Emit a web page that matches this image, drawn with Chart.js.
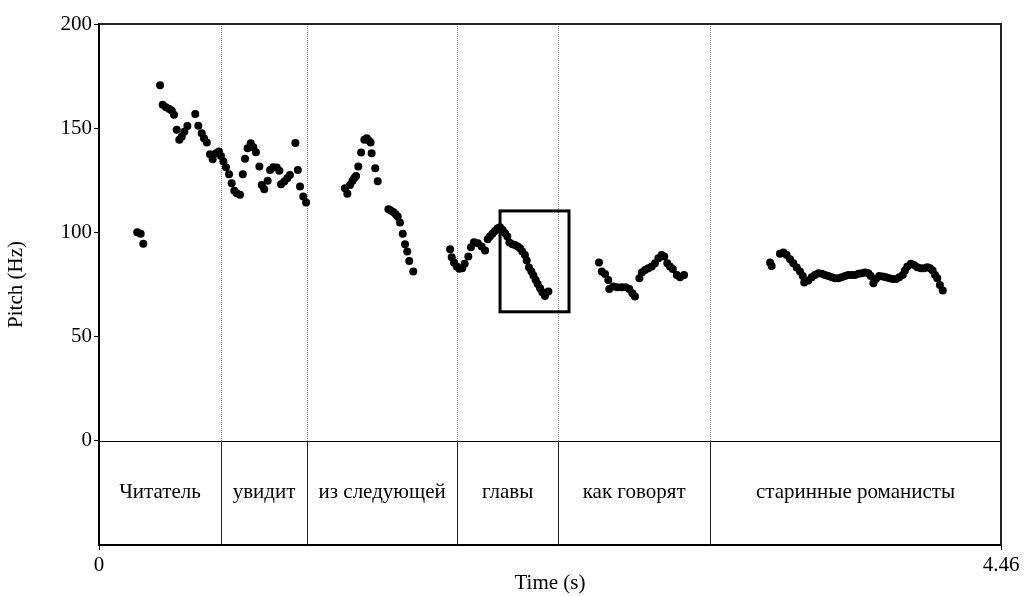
<!DOCTYPE html>
<html>
<head>
<meta charset="utf-8">
<script src="https://cdn.jsdelivr.net/npm/chart.js@4.4.1/dist/chart.umd.min.js"></script>
<style>
  html, body { margin: 0; padding: 0; background: #fff; }
  canvas { display: block; }
</style>
</head>
<body>
<canvas id="pitchChart" width="1025" height="596"></canvas>
<script>
// pitch track samples (time in s, pitch in Hz)
const times = [
  0.189, 0.206, 0.219, 0.302, 0.315, 0.331, 0.348, 0.360, 0.371, 0.384,
  0.397, 0.409, 0.422, 0.437, 0.476, 0.491, 0.508, 0.519, 0.533, 0.549,
  0.562, 0.579, 0.593, 0.603, 0.615, 0.628, 0.643, 0.656, 0.669, 0.681,
  0.697, 0.711, 0.722, 0.735, 0.750, 0.763, 0.776, 0.793, 0.805, 0.817,
  0.834, 0.846, 0.862, 0.879, 0.892, 0.900, 0.916, 0.931, 0.944, 0.971,
  0.983, 0.994, 1.010, 1.024,
  1.216, 1.228, 1.241, 1.253, 1.262, 1.271, 1.282, 1.296, 1.312, 1.324,
  1.335, 1.343, 1.348, 1.366, 1.378, 1.431, 1.442, 1.455, 1.467, 1.477,
  1.488, 1.502, 1.513, 1.524, 1.534, 1.554,
  1.736, 1.744, 1.755, 1.769, 1.782, 1.796, 1.808, 1.826, 1.839, 1.854,
  1.873, 1.892, 1.909, 1.922, 1.933, 1.945, 1.958, 1.971, 1.983, 1.996,
  2.008, 2.019, 2.029, 2.044, 2.057, 2.070, 2.082, 2.093, 2.106, 2.115,
  2.126, 2.138, 2.148, 2.159, 2.169, 2.181, 2.192, 2.205, 2.222,
  2.472, 2.486, 2.502, 2.518, 2.523, 2.543, 2.563, 2.585, 2.604, 2.622,
  2.637, 2.650, 2.672, 2.684, 2.700, 2.716, 2.733, 2.749, 2.766, 2.782,
  2.795, 2.810, 2.823, 2.837, 2.857, 2.873, 2.893,
  3.318, 3.326, 3.367, 3.384, 3.400, 3.417, 3.433, 3.450, 3.466, 3.480,
  3.487, 3.507, 3.524, 3.540, 3.557, 3.574, 3.590, 3.606, 3.623, 3.639,
  3.656, 3.672, 3.689, 3.705, 3.722, 3.738, 3.755, 3.771, 3.788, 3.804,
  3.816, 3.829, 3.842, 3.858, 3.875, 3.891, 3.908, 3.925, 3.941, 3.957,
  3.974, 3.985, 3.997, 4.014, 4.030, 4.046, 4.063, 4.079, 4.096, 4.109,
  4.122, 4.134, 4.145, 4.158, 4.172
];
const pitches = [
  100.1, 99.3, 94.6, 170.6, 161.3, 160.0, 159.2, 158.4, 156.4, 149.2,
  144.4, 145.9, 148.3, 151.1, 156.8, 151.2, 147.6, 145.2, 143.1, 137.5,
  135.1, 138.0, 138.8, 136.7, 134.0, 131.3, 127.9, 123.6, 120.0, 118.8,
  118.1, 127.9, 135.4, 140.4, 142.8, 140.9, 138.5, 131.6, 122.8, 120.7,
  124.8, 130.0, 131.3, 131.1, 129.6, 123.1, 124.4, 126.0, 127.6, 142.9,
  130.0, 122.0, 117.2, 114.3,
  121.2, 118.5, 122.8, 124.7, 126.0, 127.1, 131.6, 138.3, 144.4, 145.2,
  144.0, 143.1, 138.0, 130.8, 124.6, 111.1, 110.5, 109.8, 108.7, 107.6,
  104.7, 99.3, 94.3, 90.8, 86.3, 81.2,
  91.9, 88.1, 85.5, 83.6, 82.5, 82.8, 84.9, 88.4, 92.9, 95.3,
  94.8, 93.2, 91.3, 96.7, 98.0, 99.3, 100.7, 102.0, 102.5, 101.2,
  99.6, 98.0, 95.1, 94.3, 93.9, 93.2, 92.4, 90.8, 89.2, 86.5,
  83.1, 81.2, 79.3, 77.2, 75.2, 73.2, 71.3, 69.5, 71.6,
  85.5, 81.2, 80.0, 77.2, 72.8, 74.0, 73.7, 73.7, 73.7, 72.8,
  70.8, 69.2, 78.0, 80.7, 82.0, 82.8, 83.6, 85.2, 87.6, 89.2,
  88.4, 85.2, 83.6, 82.4, 79.6, 78.5, 79.6,
  85.5, 83.9, 89.7, 90.3, 89.2, 87.1, 85.2, 83.1, 81.2, 79.1,
  75.9, 76.9, 78.5, 79.6, 80.4, 80.1, 79.6, 79.1, 78.5, 78.0,
  78.0, 78.5, 79.1, 79.5, 79.5, 79.6, 80.1, 80.4, 80.7, 80.4,
  79.1, 75.6, 77.6, 79.1, 78.8, 78.5, 78.0, 77.6, 77.6, 78.5,
  79.6, 81.7, 83.6, 84.9, 84.4, 83.3, 82.8, 82.8, 83.3, 82.8,
  81.7, 79.6, 78.0, 74.8, 72.1
];

// word tier
const words = ["Читатель", "увидит", "из следующей", "главы", "как говорят", "старинные романисты"];
const wordBounds = [0, 0.603, 1.029, 1.771, 2.270, 3.022, 4.46];

// highlighted region
const boxTimes = [1.983, 2.324];
const boxPitches = [61.9, 110.3];

const xTicks = [0, 4.46];
const xTickLabels = ["0", "4.46"];
const yTicks = [0, 50, 100, 150, 200];
const yMin = -50;
const yMax = 200;

const serif = "'Liberation Serif', 'Times New Roman', serif";
const textFont = { family: serif, size: 21 };

const tierPlugin = {
  id: "tier",
  beforeDatasetsDraw(chart) {
    const { ctx, chartArea, scales } = chart;
    const x = scales.x;
    const y = scales.y;
    const y0 = y.getPixelForValue(0);
    const yTop = y.getPixelForValue(yMax);
    const yBot = y.getPixelForValue(yMin);
    ctx.save();

    // zero line separating pitch pane and word tier
    ctx.strokeStyle = "#000";
    ctx.lineWidth = 1;
    ctx.beginPath();
    ctx.moveTo(chartArea.left, Math.round(y0) + 0.5);
    ctx.lineTo(chartArea.right, Math.round(y0) + 0.5);
    ctx.stroke();

    // boundaries: dotted in pitch pane, solid in tier
    wordBounds.slice(1, -1).forEach((t) => {
      const px = Math.round(x.getPixelForValue(t)) + 0.5;
      ctx.strokeStyle = "#7a7a7a";
      ctx.setLineDash([1, 1]);
      ctx.beginPath();
      ctx.moveTo(px, yTop);
      ctx.lineTo(px, y0);
      ctx.stroke();
      ctx.setLineDash([]);
      ctx.strokeStyle = "#222";
      ctx.beginPath();
      ctx.moveTo(px, y0);
      ctx.lineTo(px, yBot);
      ctx.stroke();
    });

    // word labels
    ctx.fillStyle = "#000";
    ctx.font = `${textFont.size}px ${serif}`;
    ctx.textAlign = "center";
    ctx.textBaseline = "middle";
    const yMid = y.getPixelForValue(yMin / 2);
    words.forEach((w, i) => {
      const cx = (x.getPixelForValue(wordBounds[i]) + x.getPixelForValue(wordBounds[i + 1])) / 2;
      ctx.fillText(w, cx, yMid);
    });
    ctx.restore();
  },
  afterDatasetsDraw(chart) {
    const { ctx, chartArea, scales } = chart;
    const x = scales.x;
    const y = scales.y;
    ctx.save();

    // highlight box
    ctx.strokeStyle = "#000";
    ctx.lineWidth = 3;
    const bx0 = x.getPixelForValue(boxTimes[0]);
    const bx1 = x.getPixelForValue(boxTimes[1]);
    const by0 = y.getPixelForValue(boxPitches[1]);
    const by1 = y.getPixelForValue(boxPitches[0]);
    ctx.strokeRect(bx0, by0, bx1 - bx0, by1 - by0);

    // top and right frame
    ctx.lineWidth = 2;
    ctx.strokeStyle = "#222";
    ctx.beginPath();
    ctx.moveTo(chartArea.left, chartArea.top);
    ctx.lineTo(chartArea.right, chartArea.top);
    ctx.lineTo(chartArea.right, chartArea.bottom);
    ctx.stroke();
    ctx.restore();
  },
};

const ctx = document.getElementById("pitchChart").getContext("2d");
new Chart(ctx, {
  type: "scatter",
  data: {
    datasets: [
      {
        data: times.map((t, i) => ({ x: t, y: pitches[i] })),
        backgroundColor: "#000",
        borderWidth: 0,
        pointRadius: 4,
        pointHoverRadius: 4,
      },
    ],
  },
  options: {
    responsive: false,
    animation: false,
    events: [],
    layout: { padding: { top: 24, right: 24, left: 0, bottom: 0 } },
    plugins: { legend: { display: false }, tooltip: { enabled: false } },
    scales: {
      x: {
        type: "linear",
        min: 0,
        max: 4.46,
        afterBuildTicks: (scale) => {
          scale.ticks = xTicks.map((v) => ({ value: v }));
        },
        afterFit: (scale) => {
          scale.height = 51;
        },
        ticks: {
          autoSkip: false,
          maxRotation: 0,
          padding: 3,
          color: "#000",
          font: textFont,
          callback: (value, index) => xTickLabels[index],
        },
        grid: { drawOnChartArea: false, drawTicks: true, tickLength: 5, color: "#000" },
        border: { display: true, color: "#000", width: 2 },
        title: { display: true, text: "Time (s)", color: "#000", font: textFont, padding: { bottom: 0 } },
      },
      y: {
        type: "linear",
        min: yMin,
        max: yMax,
        afterBuildTicks: (scale) => {
          scale.ticks = yTicks.map((v) => ({ value: v }));
        },
        afterFit: (scale) => {
          scale.width = 99;
        },
        ticks: {
          autoSkip: false,
          padding: 2,
          color: "#000",
          font: textFont,
          callback: (value) => String(value),
        },
        grid: { drawOnChartArea: false, drawTicks: true, tickLength: 5, color: "#000" },
        border: { display: true, color: "#000", width: 2 },
        title: { display: true, text: "Pitch (Hz)", color: "#000", font: textFont, padding: { top: 4 } },
      },
    },
  },
  plugins: [tierPlugin],
});
</script>
</body>
</html>
